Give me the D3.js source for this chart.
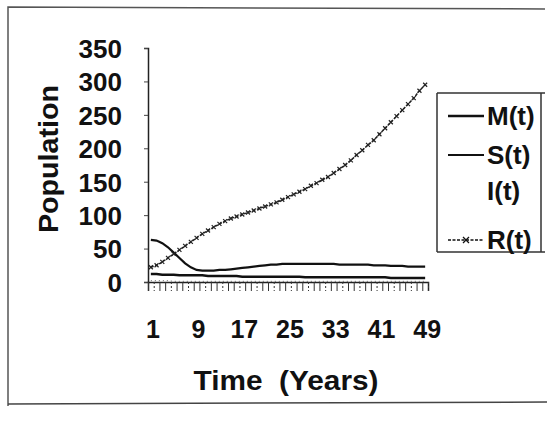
<!DOCTYPE html>
<html lang="en">
<head>
<meta charset="utf-8">
<title>Population over time</title>
<script src="https://cdn.jsdelivr.net/npm/d3@7"></script>
<style>
  body { margin: 0; background: #fff; }
  text { font-family: Arial, "Liberation Sans", sans-serif; font-weight: bold; fill: #111; }
</style>
</head>
<body>
<script>
// data (years 1..49)
const years = d3.range(1, 50);
const mVals = [12,12,11,11,11,10,10,10,10,10,9,9,9,9,9,9,8,8,8,8,8,8,8,8,8,8,8,7,7,7,7,7,7,7,7,7,7,7,7,7,7,7,6,6,6,6,6,6,6];
const sVals = [63,62,58,52,44,36,28,22,18,17,17,17,18,18,19,20,21,22,23,24,25,26,26,27,27,27,27,27,27,27,27,27,27,26,26,26,26,26,26,25,25,25,24,24,24,23,23,23,23];
const iVals = [2,2,2,2,1,1,1,1,1,1,1,1,1,1,1,1,1,1,1,1,1,1,1,1,1,1,1,1,1,1,1,1,1,1,1,1,1,1,1,1,1,1,1,1,1,1,1,1,1];
const rVals = [22,25,30,36,42,48,54,60,66,72,77,82,87,91,95,98,101,104,107,110,113,116,119,123,127,131,135,139,144,148,153,157,163,169,175,182,190,197,205,212,221,230,239,248,257,266,275,286,295];
const yTicks = [0, 50, 100, 150, 200, 250, 300, 350];
const xTicks = [1, 9, 17, 25, 33, 41, 49];
const seriesNames = ["M(t)", "S(t)", "I(t)", "R(t)"];

const W = 547, H = 422;
const svg = d3.select("body").append("svg").attr("width", W).attr("height", H);

// scanned page frame
svg.append("path")
  .attr("d", "M8,406 L8,7 L545,9")
  .attr("fill", "none").attr("stroke", "#555").attr("stroke-width", 1.5);
svg.append("line").attr("x1", 8).attr("y1", 404).attr("x2", 547).attr("y2", 402)
  .attr("stroke", "#444").attr("stroke-width", 1.5);

const x = d3.scaleLinear().domain([0.5, 49.5]).range([148, 428]);
const y = d3.scaleLinear().domain([0, 350]).range([282, 48]);

// y axis
const gy = svg.append("g").attr("transform", "translate(148,0)")
  .call(d3.axisLeft(y).tickValues(yTicks).tickSize(4).tickPadding(22));
gy.selectAll("text").style("font-size", "26px").attr("dy", "0.36em");
gy.select(".domain").attr("stroke", "#222").attr("stroke-width", 1.5);
gy.selectAll(".tick line").attr("stroke", "#444");

// x axis: ticks between categories, labels every 8 years
const gx = svg.append("g").attr("transform", "translate(0,282)")
  .call(d3.axisBottom(x).tickValues(d3.range(0.5, 50, 1)).tickSize(9).tickFormat(""));
gx.select(".domain").attr("stroke", "#222").attr("stroke-width", 1.5);
gx.selectAll(".tick line").attr("stroke", "#333").attr("stroke-dasharray", (d, i) => i % 3 === 1 ? "2,2" : null);

svg.append("g").selectAll("text").data(xTicks).join("text")
  .attr("x", d => x(d) + 2).attr("y", 338)
  .attr("text-anchor", "middle").style("font-size", "25px")
  .text(d => d);

// axis titles
svg.append("text").attr("transform", "translate(58,159) rotate(-90)")
  .attr("text-anchor", "middle").style("font-size", "27px")
  .attr("textLength", 148).attr("lengthAdjust", "spacingAndGlyphs").text("Population");
svg.append("text").attr("x", 286).attr("y", 390).attr("text-anchor", "middle")
  .style("font-size", "27px").style("white-space", "pre")
  .attr("textLength", 185).attr("lengthAdjust", "spacingAndGlyphs").text("Time  (Years)");

const line = d3.line().x((d, i) => x(years[i])).y(d => y(d));

// I(t): faint dotted line near zero
svg.append("path").datum(iVals).attr("d", line)
  .attr("fill", "none").attr("stroke", "#666").attr("stroke-width", 1).attr("stroke-dasharray", "1,3");
// M(t)
svg.append("path").datum(mVals).attr("d", line)
  .attr("fill", "none").attr("stroke", "#111").attr("stroke-width", 2.5);
// S(t)
svg.append("path").datum(sVals).attr("d", line)
  .attr("fill", "none").attr("stroke", "#111").attr("stroke-width", 2.2);
// R(t): dashed with x markers
svg.append("path").datum(rVals).attr("d", line)
  .attr("fill", "none").attr("stroke", "#222").attr("stroke-width", 1.5).attr("stroke-dasharray", "3,1.5");
svg.append("g").selectAll("path").data(rVals).join("path")
  .attr("d", (d, i) => {
    const cx = x(years[i]), cy = y(d);
    return `M${cx-2},${cy-2}L${cx+2},${cy+2}M${cx-2},${cy+2}L${cx+2},${cy-2}`;
  })
  .attr("stroke", "#222").attr("stroke-width", 1.2);

// legend
const lg = svg.append("g");
lg.append("path").attr("d", "M437,93 L437,252 M437,93 L545,93 M437,252 L545,252 M541,93 L541,252")
  .attr("fill", "none").attr("stroke", "#333").attr("stroke-width", 1.5);
const legY = [116, 155, 191, 240];
const legStyle = [
  { w: 2.5, dash: null, mark: false },
  { w: 2.2, dash: null, mark: false },
  { w: 0, dash: null, mark: false },
  { w: 1.5, dash: "3,1.5", mark: true }
];
seriesNames.forEach((name, i) => {
  const s = legStyle[i];
  if (s.w > 0) {
    lg.append("line").attr("x1", 448).attr("x2", 484).attr("y1", legY[i]).attr("y2", legY[i])
      .attr("stroke", "#111").attr("stroke-width", s.w).attr("stroke-dasharray", s.dash);
  }
  if (s.mark) {
    lg.append("path").attr("d", `M463,${legY[i]-3}L469,${legY[i]+3}M463,${legY[i]+3}L469,${legY[i]-3}`)
      .attr("stroke", "#111").attr("stroke-width", 1.3);
  }
  lg.append("text").attr("x", 487).attr("y", legY[i]).attr("dy", "0.36em")
    .style("font-size", "26px").text(name);
});
</script>
</body>
</html>
